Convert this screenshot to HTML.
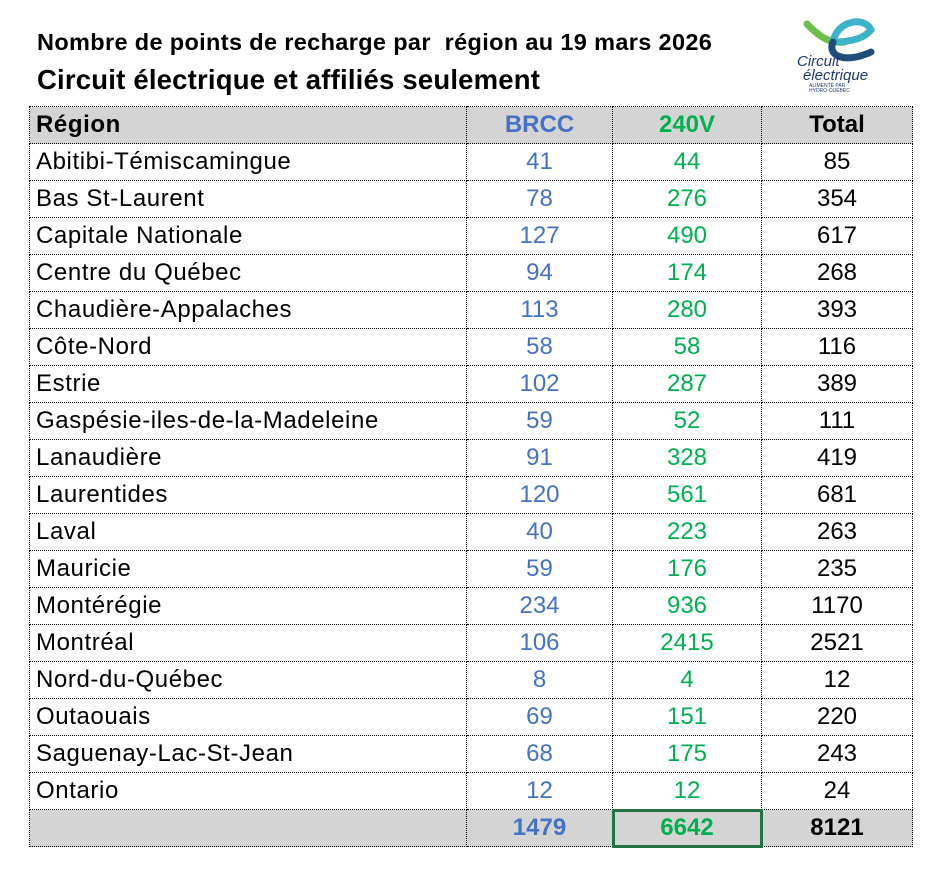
<!DOCTYPE html>
<html><head><meta charset="utf-8"><style>
body{margin:0;background:#fff;width:951px;height:869px;position:relative;font-family:"Liberation Sans",Arial,sans-serif;overflow:hidden}
.t1{position:absolute;left:37px;top:29px;font-size:23.5px;font-weight:bold;color:#000;letter-spacing:0.35px}
.t2{position:absolute;left:37px;top:64px;font-size:27.5px;font-weight:bold;color:#000;letter-spacing:0.2px}
table{position:absolute;left:29px;top:106px;border-collapse:collapse;table-layout:fixed}
td{border:1px dotted #000;height:36px;padding:0;font-size:24px;text-align:center;line-height:36px}
td:first-child{text-align:left;padding-left:6px;letter-spacing:0.6px}
.h td{background:#d4d4d4;font-weight:bold}
.b{color:#4472c4}.g{color:#00b050}
.f td{background:#d4d4d4;font-weight:bold}
.sel{outline:3px solid #217346;outline-offset:-2px}
</style></head><body>
<div class="t1">Nombre de points de recharge par&nbsp; région au 19 mars 2026</div>
<div class="t2">Circuit électrique et affiliés seulement</div>
<svg style="position:absolute;left:795px;top:12px" width="95" height="80" viewBox="0 0 95 80">
<path d="M12 12 C22 22,32 32,50 30" stroke="#6cc04a" stroke-width="7" fill="none" stroke-linecap="round"/>
<path d="M38 30 C42 8,70 4,76 18 C68 28,52 30,38 30" stroke="#3bb3c8" stroke-width="7" fill="none"/>
<path d="M38 30 C32 44,50 52,76 40" stroke="#1f4e79" stroke-width="7" fill="none" stroke-linecap="round"/>
<text x="2" y="54" font-size="15" font-style="italic" fill="#1f3a6e" font-family="Liberation Sans">Circuit</text>
<text x="8" y="68" font-size="15" font-style="italic" fill="#1f3a6e" font-family="Liberation Sans">électrique</text>
<text x="14" y="75" font-size="5" fill="#1f3a6e" font-family="Liberation Sans">ALIMENTÉ PAR</text>
<text x="14" y="80" font-size="5" fill="#1f3a6e" font-family="Liberation Sans">HYDRO-QUÉBEC</text>
</svg>
<table>
<colgroup><col style="width:437px"><col style="width:146px"><col style="width:149px"><col style="width:151px"></colgroup>
<tr class="h"><td>Région</td><td class="b">BRCC</td><td class="g">240V</td><td>Total</td></tr>
<tr><td>Abitibi-Témiscamingue</td><td class="b">41</td><td class="g">44</td><td>85</td></tr>
<tr><td>Bas St-Laurent</td><td class="b">78</td><td class="g">276</td><td>354</td></tr>
<tr><td>Capitale Nationale</td><td class="b">127</td><td class="g">490</td><td>617</td></tr>
<tr><td>Centre du Québec</td><td class="b">94</td><td class="g">174</td><td>268</td></tr>
<tr><td>Chaudière-Appalaches</td><td class="b">113</td><td class="g">280</td><td>393</td></tr>
<tr><td>Côte-Nord</td><td class="b">58</td><td class="g">58</td><td>116</td></tr>
<tr><td>Estrie</td><td class="b">102</td><td class="g">287</td><td>389</td></tr>
<tr><td>Gaspésie-iles-de-la-Madeleine</td><td class="b">59</td><td class="g">52</td><td>111</td></tr>
<tr><td>Lanaudière</td><td class="b">91</td><td class="g">328</td><td>419</td></tr>
<tr><td>Laurentides</td><td class="b">120</td><td class="g">561</td><td>681</td></tr>
<tr><td>Laval</td><td class="b">40</td><td class="g">223</td><td>263</td></tr>
<tr><td>Mauricie</td><td class="b">59</td><td class="g">176</td><td>235</td></tr>
<tr><td>Montérégie</td><td class="b">234</td><td class="g">936</td><td>1170</td></tr>
<tr><td>Montréal</td><td class="b">106</td><td class="g">2415</td><td>2521</td></tr>
<tr><td>Nord-du-Québec</td><td class="b">8</td><td class="g">4</td><td>12</td></tr>
<tr><td>Outaouais</td><td class="b">69</td><td class="g">151</td><td>220</td></tr>
<tr><td>Saguenay-Lac-St-Jean</td><td class="b">68</td><td class="g">175</td><td>243</td></tr>
<tr><td>Ontario</td><td class="b">12</td><td class="g">12</td><td>24</td></tr>
<tr class="f"><td></td><td class="b">1479</td><td class="g sel">6642</td><td>8121</td></tr>
</table>
</body></html>
